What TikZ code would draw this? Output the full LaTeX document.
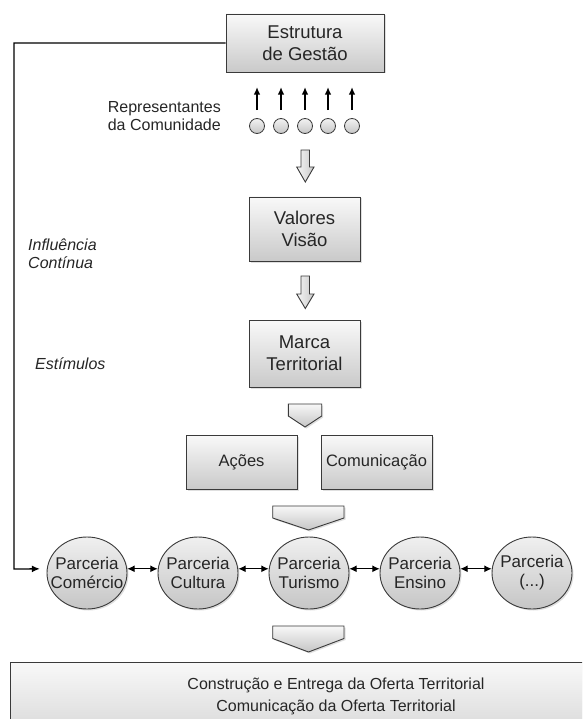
\documentclass[tikz,border=0pt]{standalone}
\usepackage{fontspec}
\setmainfont{Liberation Sans}
\usetikzlibrary{shadows,shapes.geometric,arrows.meta}
\definecolor{edge}{HTML}{3A3A3A}
\definecolor{txt}{HTML}{262626}
\newcommand{\zb}[1]{\makebox[0pt]{#1}}
\begin{document}
\begin{tikzpicture}[x=1pt,y=-1pt,
  shd/.style={drop shadow={shadow xshift=1.5pt,shadow yshift=-1.5pt,opacity=0.25}},
  box/.style={draw=edge,line width=0.9pt,top color=gray!5,bottom color=gray!42,shd,
    align=center,inner sep=0pt,text=txt,font=\fontsize{18.5}{22}\selectfont},
  smallbox/.style={box,font=\fontsize{16.5}{20}\selectfont},
  part/.style={ellipse,draw=edge,line width=0.9pt,top color=gray!12,bottom color=gray!45,
    minimum width=80pt,minimum height=72pt,inner sep=0pt,align=center,text=txt,
    font=\fontsize{17}{19}\selectfont,shd},
  dot/.style={circle,draw=edge,line width=0.8pt,top color=gray!10,bottom color=gray!45,
    minimum size=15pt,inner sep=0pt},
  fat/.style={draw=edge,line width=0.9pt,top color=gray!6,bottom color=gray!45,shd},
  hollow/.style={draw=edge,line width=0.9pt,left color=gray!8,right color=gray!42},
  lbl/.style={text=txt,font=\fontsize{16}{18}\selectfont,align=left,inner sep=0pt},
  conn/.style={draw=black,line width=1.2pt},
  tip/.style={-{Latex[length=8pt,width=7pt]}},
  dtip/.style={{Latex[length=7.5pt,width=7pt]}-{Latex[length=7.5pt,width=7pt]}}
]
\useasboundingbox (0,0) rectangle (582,719);
\begin{scope}
\clip (0,0) rectangle (582,719);
\fill[white] (0,0) rectangle (582,719);

% top box
\node[box,minimum width=158pt,minimum height=58pt] (est) at (305,43) {Estrutura\\de Gestão};

% representatives
\node[lbl,anchor=east,align=right] (rep) at (221,116) {Representantes\\da Comunidade};
\foreach \i/\x in {1/257,2/281,3/305,4/328,5/352}{
  \node[dot] (s\i) at (\x,126) {};
  \draw[conn,line width=1.3pt,-{Latex[length=7.5pt,width=6.5pt]}] ([yshift=8pt]s\i.north) -- ([yshift=31pt]s\i.north);
}

% hollow arrow 1
\path[hollow] (301,150) -- (309.5,150) -- (309.5,167) -- (314,167) -- (305.3,182) -- (296.7,167) -- (301,167) -- cycle;

\node[box,minimum width=111pt,minimum height=64pt] (val) at (304.5,229) {Valores\\Visão};

% hollow arrow 2
\path[hollow] (301,276) -- (309.5,276) -- (309.5,294) -- (314,294) -- (305.3,308.5) -- (296.7,294) -- (301,294) -- cycle;

\node[box,minimum width=111pt,minimum height=67pt] (marca) at (304.5,353.5) {Marca\\Territorial};

% side labels
\node[lbl,anchor=west,font=\fontsize{16}{18}\selectfont\itshape] (infl) at (28,254) {Influência\\Contínua};
\node[lbl,anchor=west,font=\fontsize{16}{18}\selectfont\itshape] (estim) at (35,364) {Estímulos};

% small pentagon
\path[fat] (288.3,404) -- (321.7,404) -- (321.7,416) -- (305,427) -- (288.3,416) -- cycle;

\node[smallbox,minimum width=111pt,minimum height=54pt] (acoes) at (241.5,462) {Ações};
\node[smallbox,minimum width=111pt,minimum height=54pt] (comun) at (376.5,462) {Comunicação};

% big pentagon
\path[fat] (272.7,506) -- (344,506) -- (344,518) -- (308.5,530) -- (272.7,518) -- cycle;

% partnerships
\node[part] (c1) at (87,573) {\zb{Parceria}\\\zb{Comércio}};
\node[part] (c2) at (198,573) {\zb{Parceria}\\\zb{Cultura}};
\node[part] (c3) at (309,573) {\zb{Parceria}\\\zb{Turismo}};
\node[part] (c4) at (420,573) {\zb{Parceria}\\\zb{Ensino}};
\node[part] (c5) at (532,573) {\zb{Parceria}\\\zb{(...)}};
\foreach \a/\b in {c1/c2,c2/c3,c3/c4,c4/c5}{
  \draw[conn,line width=1.3pt,dtip] (\a.6) -- (\b.174);
}

% feedback line
\coordinate (corner) at (14,569);
\draw[conn,line width=1.3pt,tip,shorten >=7pt] (est.west) -| (corner) -- (c1.174);

% bottom pentagon
\path[fat] (272.7,626) -- (344,626) -- (344,638.5) -- (308.5,652) -- (272.7,638.5) -- cycle;

% bottom box
\path[draw=edge,line width=0.9pt,top color=gray!5,bottom color=gray!35,shd] (10,662) rectangle (662,748);
\node[lbl,align=center,font=\fontsize{16}{22}\selectfont] (offer) at (336,696) {Construção e Entrega da Oferta Territorial\\Comunicação da Oferta Territorial};
\end{scope}
\end{tikzpicture}
\end{document}
